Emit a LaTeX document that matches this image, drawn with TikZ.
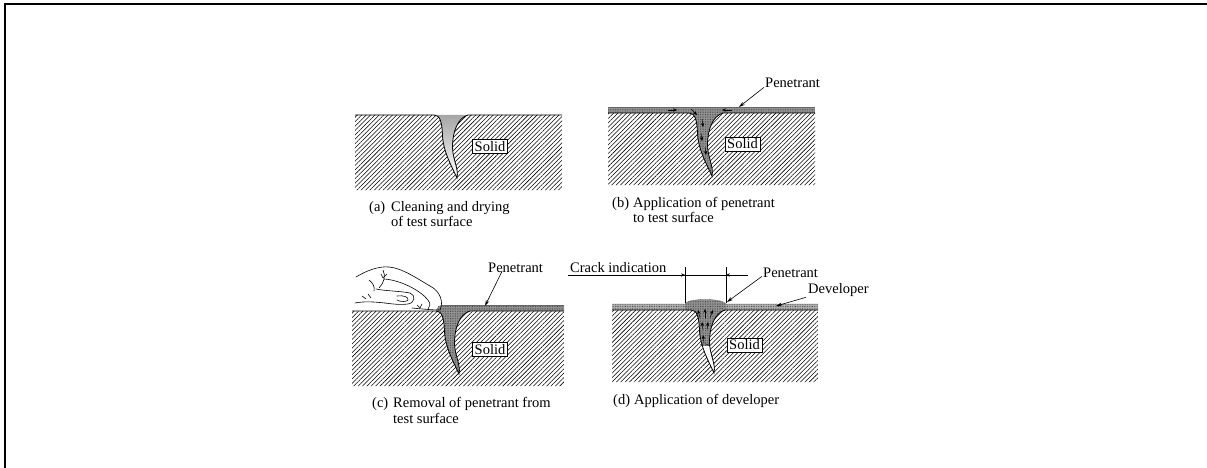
\documentclass[tikz,border=0pt]{standalone}
\usepackage{fontspec}
\setmainfont{Liberation Serif}
\usetikzlibrary{patterns.meta,arrows.meta}

% crack walls, drawn from the left lip down to the tip and back up to the right lip
\newcommand\crackwalls{(-17,0) .. controls (-11,0) and (-9,7) .. (-8.5,20) .. controls (-8,36) and (0,50) .. (6,63) .. controls (8,54) and (1.5,44) .. (1.5,32) .. controls (1.5,16) and (7,3) .. (17,0)}
% hatched solid: left edge, right edge, depth
\newcommand\blockoutline[3]{(#1,0) -- \crackwalls -- (#2,0) -- (#2,#3) -- (#1,#3) -- cycle}
\newcommand\surfaceline[2]{(#1,0) -- \crackwalls -- (#2,0)}
% penetrant drawn up out of the crack into the developer
\newcommand\bulge{(-23,0) -- (-23,-6) .. controls (-21,-12) and (15,-12) .. (18,-6) -- (18,0) -- cycle}

\tikzset{
  hatch/.style={pattern={Lines[angle=45,distance=3.1pt,line width=0.55pt]},pattern color=black},
  surface/.style={line width=0.8pt},
  penfill/.style={fill=black!42},
  devfill/.style={fill=black!30},
  pendots/.style={pattern={Dots[distance=1.7pt,radius=0.4pt]},pattern color=black!80},
  lbl/.style={font=\fontsize{14.5}{15}\selectfont, inner sep=0pt, anchor=base west},
  solidbox/.style={draw, line width=0.5pt, fill=white, inner sep=2pt, font=\fontsize{14.5}{15}\selectfont},
  leader/.style={line width=0.6pt, -{Stealth[length=6pt,width=3.5pt]}},
  flow/.style={line width=0.5pt, -{Stealth[length=4pt,width=3.4pt]}},
  dimline/.style={line width=0.5pt},
  handline/.style={line width=0.6pt, line cap=round, line join=round},
}

\begin{document}
\begin{tikzpicture}[x=1pt,y=-1pt]
\useasboundingbox (0,0) rectangle (1207,468);

% frame
\draw[line width=2.5pt] (5,468) -- (5,4) -- (1207,4);

% ---------- (a) cleaning and drying ----------
\begin{scope}[shift={(451,115)}]
  \fill[hatch] \blockoutline{-96}{111}{75};
  \shade[top color=black!35, bottom color=white] \crackwalls -- cycle;
  \draw[surface] \surfaceline{-96}{111};
  \node[solidbox] (sa) at (39,31.5) {Solid};
\end{scope}
\node[lbl] (ca) at (369,211) {(a)};
\node[lbl] (ca1) at (391,211) {Cleaning and drying};
\node[lbl] (ca2) at (391,226) {of test surface};

% ---------- (b) application of penetrant ----------
\begin{scope}[shift={(706,113)}]
  \fill[hatch] \blockoutline{-98}{109}{72};
  \fill[penfill] (-98,-6) rectangle (109,0);
  \fill[penfill] \crackwalls -- cycle;
  \fill[pendots] (-98,-6) rectangle (109,0);
  \fill[pendots] \crackwalls -- cycle;
  \draw[line width=0.3pt, black!60] (-98,-6) -- (109,-6);
  \draw[surface] \surfaceline{-98}{109};
  \node[solidbox] (sb) at (36.5,31) {Solid};
  % flow of penetrant towards and into the crack
  \draw[flow] (-38,-3) -- (-29,-3);
  \draw[flow] (26,-3) -- (16,-3);
  \draw[flow] (-15,-4) -- (-9,2);
  \draw[flow] (-4,6) -- (-3,14);
  \draw[flow] (-5,20) -- (-4,28);
  \draw[flow] (-1,34) -- (0,42);
\end{scope}
\node[lbl] (pb) at (765,88) {Penetrant};
\coordinate (pbtip) at (739,107);
\draw[leader] ([xshift=-1pt,yshift=1pt]pb.south west) -- (pbtip);
\node[lbl] (cb) at (612,207) {(b)};
\node[lbl] (cb1) at (633,207) {Application of penetrant};
\node[lbl] (cb2) at (633,222) {to test surface};

% ---------- (c) removal of penetrant ----------
\begin{scope}[shift={(453,311)}]
  \fill[hatch] \blockoutline{-101}{111}{75};
  \fill[penfill] (-17,0) .. controls (-15,-5) .. (-11,-6) -- (111,-6) -- (111,0) -- cycle;
  \fill[penfill] \crackwalls -- cycle;
  \fill[pendots] (-17,0) .. controls (-15,-5) .. (-11,-6) -- (111,-6) -- (111,0) -- cycle;
  \fill[pendots] \crackwalls -- cycle;
  \draw[line width=0.3pt, black!60] (-11,-6) -- (111,-6);
  \draw[surface] \surfaceline{-101}{111};
  \node[solidbox] (sc) at (37,38.5) {Solid};
\end{scope}
% wiping hand: back of hand and index finger
\draw[handline] (356,277) .. controls (366,271) and (378,266) .. (389,267)
  .. controls (402,268) and (418,279) .. (430,286)
  .. controls (440,291) and (444,302) .. (440,310);
\draw[handline] (412,308) .. controls (422,309) and (432,310) .. (440,310);
% middle finger
\draw[handline] (384,279) .. controls (400,280) and (420,290) .. (428,300)
  .. controls (431,304) and (430,307) .. (428,309);
% thumb and its nail
\draw[handline] (376,289) .. controls (385,291) and (400,291) .. (410,293)
  .. controls (416,295) and (415,303) .. (408,304)
  .. controls (400,305) and (392,304) .. (385,303);
\draw[handline] (397,296) .. controls (403,295) and (409,297) .. (408,300)
  .. controls (407,302) and (400,302) .. (397,300);
% palm and creases
\draw[handline] (355,303) .. controls (365,301) and (375,302) .. (385,303);
\draw[handline] (383,270) .. controls (386,276) and (384,283) .. (379,288);
\draw[handline] (381,274) -- (383,278) -- (387,274);
\draw[handline] (369,280) .. controls (373,283) and (375,287) .. (374,291);
\draw[handline] (362,296) -- (366,299) (368,294) -- (371,298);
\draw[handline] (417,305) -- (420,308) -- (422,304);
\node[lbl] (pc) at (488,272) {Penetrant};
\coordinate (pctip) at (485,306);
\draw[leader] ([xshift=14pt,yshift=1pt]pc.south west) -- (pctip);
\node[lbl] (cc) at (372,407) {(c)};
\node[lbl] (cc1) at (393,407) {Removal of penetrant from};
\node[lbl] (cc2) at (393,423) {test surface};

% ---------- (d) application of developer ----------
\begin{scope}[shift={(708,310)}]
  \fill[hatch] \blockoutline{-96}{110}{72};
  \fill[devfill] (-96,-6) rectangle (110,0);
  \fill[pendots] (-96,-6) rectangle (110,0);
  \begin{scope}
    \clip (-40,-20) rectangle (40,35);
    \fill[penfill] \crackwalls -- cycle;
    \fill[pendots] \crackwalls -- cycle;
  \end{scope}
  \fill[penfill] \bulge;
  \fill[pendots] \bulge;
  \draw[line width=0.3pt, black!60] (-96,-6) -- (-23,-6) .. controls (-21,-12) and (15,-12) .. (18,-6) -- (110,-6);
  \draw[surface] \surfaceline{-96}{110};
  \draw[line width=0.4pt] (-8,35) .. controls (-4,33) and (0,34) .. (2,36);
  \node[solidbox] (sd) at (36.5,35) {Solid};
  \draw[flow] (-8,8) -- (-10,0);
  \draw[flow] (-3,8) -- (-3,-1);
  \draw[flow] (2,8) -- (5,0);
  \draw[flow] (-5,20) -- (-6,12);
  \draw[flow] (-1,20) -- (0,12);
  \draw[flow] (-4,33) -- (-5,25);
  \coordinate (dl) at (-23,-7);
  \coordinate (dr) at (18,-7);
\end{scope}
\node[lbl] (ci) at (570,272) {Crack indication};
\coordinate (dlt) at (685,267);
\coordinate (drt) at (726,267);
\coordinate (dimL) at (568,275);
\coordinate (dimR) at (748,275);
\draw[dimline] (dlt) -- (dl);
\draw[dimline] (drt) -- (dr);
\draw[dimline] (dimL) -- (dimR);
\draw[flow] (dimL) -- (685,275);
\draw[flow] (dimR) -- (726,275);
\node[lbl] (pd) at (763,277) {Penetrant};
\coordinate (pdtip) at (727,302);
\draw[leader] ([xshift=-1pt,yshift=1pt]pd.south west) -- (pdtip);
\node[lbl] (dv) at (808,293) {Developer};
\coordinate (dvtip) at (776,306);
\draw[leader] ([xshift=-2pt,yshift=-1pt]dv.south west) -- (dvtip);
\node[lbl] (cd) at (613,404) {(d)};
\node[lbl] (cd1) at (634,404) {Application of developer};
\end{tikzpicture}
\end{document}
